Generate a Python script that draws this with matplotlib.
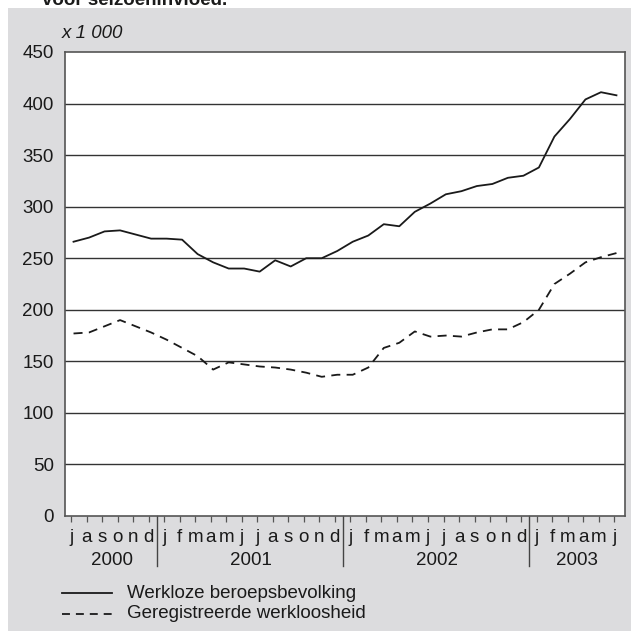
import matplotlib
matplotlib.use('Agg')
import matplotlib.pyplot as plt
from matplotlib.lines import Line2D
from matplotlib.patches import Rectangle
import numpy as np

plt.rcParams['font.family'] = ['Liberation Sans', 'DejaVu Sans']

# juli 2000 t/m juni 2003
maanden = ['j', 'a', 's', 'o', 'n', 'd',
           'j', 'f', 'm', 'a', 'm', 'j', 'j', 'a', 's', 'o', 'n', 'd',
           'j', 'f', 'm', 'a', 'm', 'j', 'j', 'a', 's', 'o', 'n', 'd',
           'j', 'f', 'm', 'a', 'm', 'j']
jaren = ['2000', '2001', '2002', '2003']
jaar_start = [0, 6, 18, 30]
jaar_eind = [5, 17, 29, 35]

werkloze_beroepsbevolking = [
    266, 270, 276, 277, 273, 269,
    269, 268, 254, 246, 240, 240, 237, 248, 242, 250, 250, 257,
    266, 272, 283, 281, 295, 303, 312, 315, 320, 322, 328, 330,
    338, 368, 385, 404, 411, 408]
geregistreerde_werkloosheid = [
    177, 178, 184, 190, 184, 178,
    171, 163, 155, 142, 149, 147, 145, 144, 142, 139, 135, 137,
    137, 144, 163, 168, 179, 174, 175, 174, 178, 181, 181, 188,
    200, 225, 235, 246, 251, 255]

yticks = [0, 50, 100, 150, 200, 250, 300, 350, 400, 450]

FS = 13.5
W, H = 631, 631
fig = plt.figure(figsize=(W / 100, H / 100), dpi=100)
fig.patch.set_facecolor('white')

# grijze achtergrond
fig.patches.append(Rectangle((8 / W, 0), 1 - 8 / W, 1 - 8 / H,
                             transform=fig.transFigure, facecolor='#dcdcde',
                             edgecolor='none', zorder=-10))

ax = fig.add_axes([65 / W, 1 - 516 / H, 560 / W, 464 / H])
ax.set_facecolor('white')

x = np.arange(len(maanden))
xd = x + 0.15

ax.plot(xd, werkloze_beroepsbevolking, color='#1a1a1a', lw=1.3, zorder=3)
ax.plot(xd, geregistreerde_werkloosheid, color='#1a1a1a', lw=1.3,
        linestyle=(0, (5, 3.5)), zorder=3)

ax.set_ylim(0, 450)
ax.set_xlim(-0.4, 35.7)
ax.set_yticks(yticks)
for v in yticks[1:-1]:
    ax.axhline(v, color='#333333', lw=1.0, zorder=1)

for s in ax.spines.values():
    s.set_color('#555555')
    s.set_linewidth(1.2)

ax.tick_params(axis='y', length=0, pad=8, labelsize=FS, labelcolor='#1a1a1a')
ax.set_xticks(x)
ax.set_xticklabels(maanden)
ax.tick_params(axis='x', length=4, width=0.9, color='#555555', pad=5,
               labelsize=FS, labelcolor='#1a1a1a')

# jaarscheidingen en jaartallen
trans = ax.get_xaxis_transform()
for xs in [5.5, 17.5, 29.5]:
    ax.plot([xs, xs], [0, -0.108], transform=trans, color='#444444',
            lw=1.0, clip_on=False)
for jaar, a, b in zip(jaren, jaar_start, jaar_eind):
    ax.text((a + b) / 2 + 0.1, -0.096, jaar, transform=trans, ha='center',
            va='center', fontsize=FS, color='#1a1a1a')

fig.text(62 / W, 1 - 33 / H, 'x 1 000', style='italic', fontsize=FS,
         va='center', ha='left', color='#1a1a1a')
# titel valt grotendeels buiten beeld, zoals in het origineel
fig.text(42 / W, 1 - 5 / H, 'voor seizoeninvloed.', fontweight='bold',
         fontsize=FS, va='baseline', ha='left', color='#1a1a1a')

# legenda
fig.lines.append(Line2D([62 / W, 112 / W], [1 - 593 / H, 1 - 593 / H],
                        transform=fig.transFigure, color='#1a1a1a', lw=1.3))
fig.lines.append(Line2D([62 / W, 112 / W], [1 - 614 / H, 1 - 614 / H],
                        transform=fig.transFigure, color='#1a1a1a', lw=1.3,
                        linestyle=(0, (4.4, 3.3))))
fig.text(127 / W, 1 - 593 / H, 'Werkloze beroepsbevolking', fontsize=FS,
         va='center', ha='left', color='#1a1a1a')
fig.text(127 / W, 1 - 614 / H, 'Geregistreerde werkloosheid', fontsize=FS,
         va='center', ha='left', color='#1a1a1a')

fig.savefig('out.png', dpi=100)
